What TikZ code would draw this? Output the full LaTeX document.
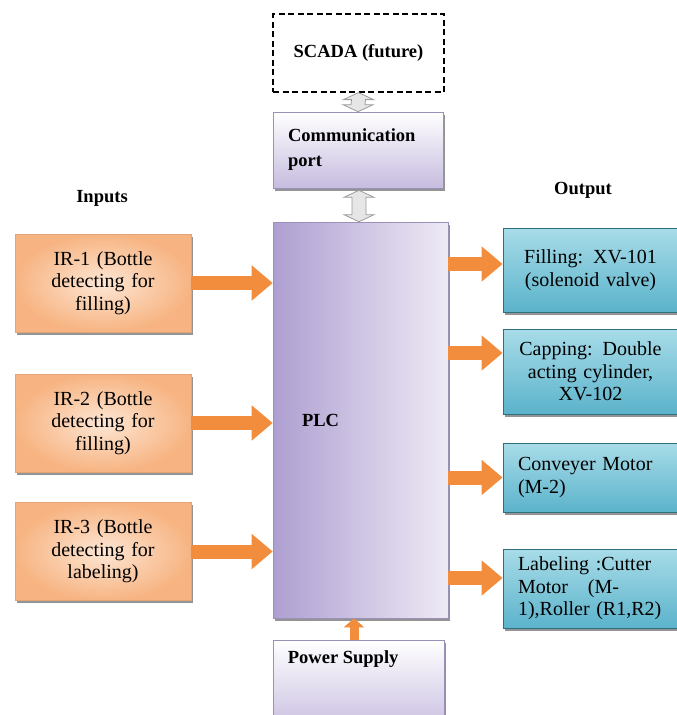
\documentclass[tikz,border=0pt]{standalone}
\usepackage{fontspec}
\setmainfont{Liberation Serif}
\usetikzlibrary{arrows.meta,calc,shadows}
\definecolor{inlight}{HTML}{FDE6D4}
\definecolor{indark}{HTML}{F7B482}
\definecolor{inborder}{HTML}{E3A574}
\definecolor{outlight}{HTML}{A8DCE8}
\definecolor{outdark}{HTML}{5BB3CB}
\definecolor{outborder}{HTML}{2F6F80}
\definecolor{plclight}{HTML}{EEEAF5}
\definecolor{plcdark}{HTML}{AE9FD1}
\definecolor{plcborder}{HTML}{9A90B8}
\definecolor{arrorange}{HTML}{F28D3E}
\definecolor{arrgray}{HTML}{9C9C9C}
\definecolor{arrfill}{HTML}{E6E6E6}
\newcommand\vdarrow[2]{%
  \draw[dblarr] (#1) -- ($(#1)+(15,7)$) -- ($(#1)+(7,7)$) -- ($(#2)+(7,-7)$) -- ($(#2)+(15,-7)$) -- (#2)
   -- ($(#2)+(-15,-7)$) -- ($(#2)+(-7,-7)$) -- ($(#1)+(-7,7)$) -- ($(#1)+(-15,7)$) -- cycle;}
\begin{document}
\begin{tikzpicture}[x=1pt,y=-1pt,
  txt/.style={font=\fontsize{20}{22.5}\selectfont},
  bold/.style={font=\fontsize{18.5}{25}\selectfont\bfseries},
  shadowed/.style={drop shadow={shadow xshift=2pt,shadow yshift=-2.5pt,fill=black!70,opacity=.6}},
  inbox/.style={txt,shadowed,draw=inborder,line width=.6pt,shading=radial,inner color=inlight,outer color=indark,
    minimum width=176pt,minimum height=98pt,text width=160pt,align=center,inner sep=0pt},
  outbox/.style={txt,shadowed,draw=outborder,line width=.8pt,top color=outlight,bottom color=outdark,
    minimum width=175pt,inner sep=0pt},
  purbox/.style={shadowed,draw=plcborder,line width=.6pt,inner sep=0pt},
  fatarr/.style={draw=arrorange,line width=14pt,-{Triangle[length=21pt,width=34pt]}},
  dblarr/.style={draw=arrgray,line width=.8pt,fill=arrfill},
]
\useasboundingbox (0,0) rectangle (677,715);

% top chain
\node[draw=black,dash pattern=on 6pt off 3.5pt,line width=1.2pt,fill=white,minimum width=171pt,minimum height=78pt,bold]
  (scada) at (358.5,53) {SCADA (future)};
\node[purbox,top color=white,bottom color=plcdark!70,minimum width=170pt,minimum height=76pt,
  bold,text width=140pt,align=left] (comm) at (358,150) {Communication\\port};
\node[purbox,left color=plcdark,right color=plclight,minimum width=175pt,minimum height=396pt,
  bold,text width=117pt,align=left] (plc) at (360.5,420) {PLC};
\node[purbox,top color=white,bottom color=plcdark!60,minimum width=171pt,minimum height=80pt,
  label={[bold,anchor=north west,inner sep=0pt,xshift=15pt,yshift=-11pt]north west:Power Supply}]
  (ps) at (358.5,680) {};

\vdarrow{scada.south}{comm.north}
\vdarrow{$(comm.south)+(1,2)$}{$(plc.north)+(-1.5,0)$}
\draw[draw=arrorange,line width=9pt,-{Triangle[length=9pt,width=20pt]}] ($(ps.north)+(-4.5,0)$) -- ($(plc.south)+(-6.5,0)$);

% headings
\node[bold] (inp) at (102,198) {Inputs};
\node[bold] (outp) at (583,190) {Output};

% inputs
\node[inbox] (ir1) at (103,283) {IR-1 (Bottle\\detecting for\\filling)\\[4pt]};
\node[inbox] (ir2) at (103,423) {IR-2 (Bottle\\detecting for\\filling)\\[2pt]};
\node[inbox] (ir3) at (103,551.5) {IR-3 (Bottle\\detecting for\\labeling)\\[1pt]};
\draw[fatarr] (ir1.east) -- (plc.west |- ir1.east);
\draw[fatarr] (ir2.east) -- (plc.west |- ir2.east);
\draw[fatarr] (ir3.east) -- (plc.west |- ir3.east);

% outputs
\node[outbox,minimum height=84pt,text width=160pt,align=center] (o1) at (590.5,270)
  {Filling: XV-101\\(solenoid valve)\\[14pt]};
\node[outbox,minimum height=85pt,text width=160pt,align=center] (o2) at (590.5,371.5)
  {Capping: Double\\acting cylinder,\\XV-102};
\node[outbox,minimum height=69pt,text width=145pt,align=left] (o3) at (590.5,477.5)
  {Conveyer Motor\\(M-2)};
\node[outbox,minimum height=79pt,text width=145pt,align=left] (o4) at (590.5,588.5)
  {Labeling :Cutter\\Motor\ \ \ (M-\\1),Roller (R1,R2)\\[2pt]};
\draw[fatarr] (plc.east |- 0,264) -- (o1.west |- 0,264);
\draw[fatarr] (plc.east |- 0,353) -- (o2.west |- 0,353);
\draw[fatarr] (plc.east |- o3.west) -- (o3.west);
\draw[fatarr] (plc.east |- 0,578) -- (o4.west |- 0,578);
\end{tikzpicture}
\end{document}
